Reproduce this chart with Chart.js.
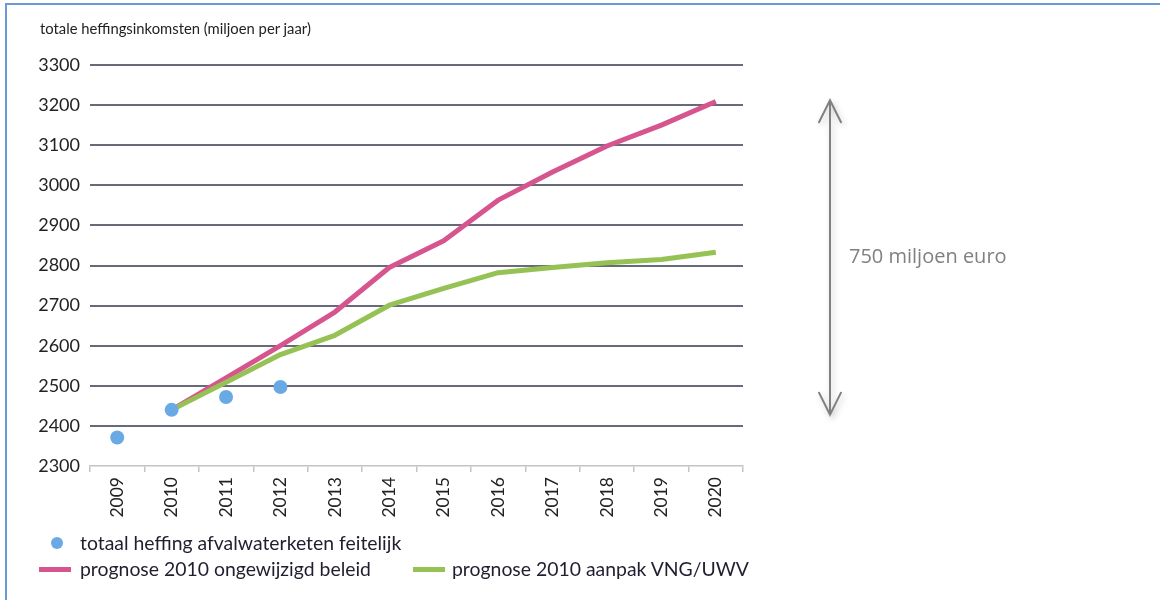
<!DOCTYPE html>
<html>
<head>
<meta charset="utf-8">
<script src="https://cdn.jsdelivr.net/npm/chart.js@4/dist/chart.umd.min.js"></script>
<style>
  html, body { margin: 0; padding: 0; background: #fff; }
  #wrap { position: relative; width: 1160px; height: 600px; overflow: hidden; background: #fff; }
  #frame { position: absolute; left: 5px; top: 3px; width: 1160px; height: 600px;
           border-top: 2px solid #6b9bd6; border-left: 2px solid #6b9bd6; box-sizing: border-box; }
  #chartBox { position: absolute; left: 0; top: 0; width: 1160px; height: 600px; }
  .title { position: absolute; left: 40px; top: 19px; font: 14.8px Lato, sans-serif; color: #222; white-space: nowrap; }
  .note { position: absolute; left: 849px; top: 242px; font: 20px "Open Sans", sans-serif; color: #808080; white-space: nowrap; }
  .leg { position: absolute; font: 19.4px Lato, sans-serif; color: #1f1f30; white-space: nowrap; line-height: 22px; }
  .dot { position: absolute; width: 12px; height: 12px; border-radius: 50%; background: #6aaae4; }
  .bar { position: absolute; width: 32px; height: 5px; }
</style>
</head>
<body>
<div id="wrap">
  <div id="chartBox"><canvas id="c"></canvas></div>
  <div id="frame"></div>
  <div class="title">totale heffingsinkomsten (miljoen per jaar)</div>
  <div class="note">750 miljoen euro</div>
  <div class="dot" style="left:51px; top:537px;"></div>
  <div class="leg" style="left:80px; top:532px;">totaal heffing afvalwaterketen feitelijk</div>
  <div class="bar" style="left:39px; top:567px; background:#d6558f;"></div>
  <div class="leg" style="left:80px; top:558px;">prognose 2010 ongewijzigd beleid</div>
  <div class="bar" style="left:413px; top:567px; background:#96c255;"></div>
  <div class="leg" style="left:452px; top:558px;">prognose 2010 aanpak VNG/UWV</div>
</div>
<script>
// ---- data ----
const years = ['2009','2010','2011','2012','2013','2014','2015','2016','2017','2018','2019','2020'];
const actual = [2371, 2440, 2472, 2497, null, null, null, null, null, null, null, null];
const unchangedPolicy = [null, 2440, 2520, 2600, 2684, 2795, 2862, 2963, 3033, 3098, 3150, 3209];
const vngApproach = [null, 2440, 2509, 2578, 2626, 2701, 2743, 2782, 2795, 2807, 2815, 2833];
const yTicks = [2300, 2400, 2500, 2600, 2700, 2800, 2900, 3000, 3100, 3200, 3300];
const seriesNames = ['totaal heffing afvalwaterketen feitelijk', 'prognose 2010 ongewijzigd beleid', 'prognose 2010 aanpak VNG/UWV'];
const arrowTopValue = 3212;
const arrowBottomValue = 2428;

const arrowPlugin = {
  id: 'gapArrow',
  afterDraw(chart) {
    const y = chart.scales.y;
    const ctx = chart.ctx;
    const x = 830;
    const t = y.getPixelForValue(arrowTopValue);
    const b = y.getPixelForValue(arrowBottomValue);
    ctx.save();
    ctx.strokeStyle = '#808080';
    ctx.lineWidth = 2;
    ctx.lineCap = 'round';
    ctx.shadowColor = 'rgba(0,0,0,0.22)';
    ctx.shadowBlur = 6;
    ctx.shadowOffsetX = 2;
    ctx.shadowOffsetY = 3;
    ctx.beginPath();
    ctx.moveTo(x, t); ctx.lineTo(x, b);
    ctx.moveTo(x - 11, t + 22); ctx.lineTo(x, t); ctx.lineTo(x + 11, t + 22);
    ctx.moveTo(x - 11, b - 22); ctx.lineTo(x, b); ctx.lineTo(x + 11, b - 22);
    ctx.stroke();
    ctx.restore();
  }
};

new Chart(document.getElementById('c'), {
  type: 'line',
  data: {
    labels: years,
    datasets: [
      { label: seriesNames[0], data: actual, showLine: false, order: 0,
        pointRadius: 7, pointHoverRadius: 7, pointBackgroundColor: '#6aaae4', pointBorderWidth: 0,
        borderColor: '#6aaae4', backgroundColor: '#6aaae4' },
      { label: seriesNames[1], data: unchangedPolicy, order: 2,
        borderColor: '#d6558f', backgroundColor: '#d6558f', borderWidth: 5, pointRadius: 0,
        borderJoinStyle: 'round', tension: 0 },
      { label: seriesNames[2], data: vngApproach, order: 1,
        borderColor: '#96c255', backgroundColor: '#96c255', borderWidth: 5, pointRadius: 0,
        borderJoinStyle: 'round', tension: 0 }
    ]
  },
  options: {
    responsive: true,
    maintainAspectRatio: false,
    animation: false,
    layout: { padding: { left: 0, right: 417, top: 65, bottom: 74 } },
    plugins: { legend: { display: false }, tooltip: { enabled: false } },
    scales: {
      x: {
        offset: true,
        grid: { offset: true, drawOnChartArea: false, drawTicks: true, tickLength: 6, color: '#c4c4c4', lineWidth: 1.5 },
        border: { display: true, color: '#c4c4c4', width: 1.5 },
        ticks: { autoSkip: false, maxRotation: 90, minRotation: 90, padding: 5,
                 font: { family: 'Lato', size: 17.5 }, color: '#222' },
        afterFit(s) { s.height = 60; }
      },
      y: {
        min: 2300, max: 3300,
        afterBuildTicks(s) { s.ticks = yTicks.map(v => ({ value: v })); },
        grid: { drawTicks: false, lineWidth: 2,
                color: c => (c.tick && c.tick.value === 2300) ? 'rgba(0,0,0,0)' : '#686a79' },
        border: { display: false },
        ticks: { padding: 10, font: { family: 'Lato', size: 18 }, color: '#222',
                 callback: v => String(v) },
        afterFit(s) { s.width = 90; }
      }
    }
  },
  plugins: [arrowPlugin]
});
</script>
</body>
</html>
